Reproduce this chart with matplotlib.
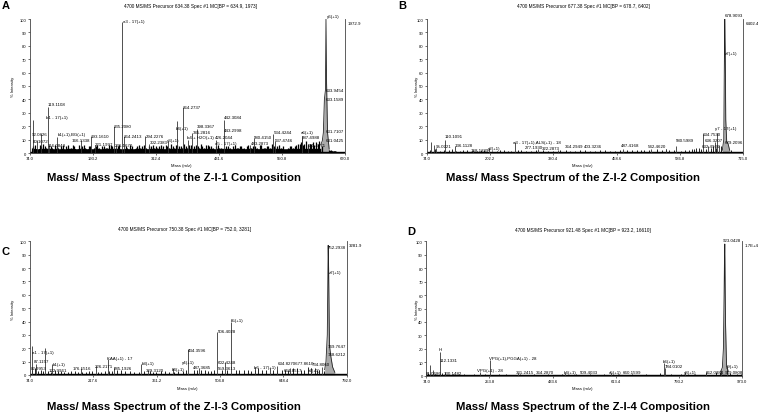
import numpy as np
import matplotlib
matplotlib.use("Agg")
from matplotlib import pyplot as plt

plt.rcParams['font.family'] = ['Liberation Sans', 'DejaVu Sans']

W, H = 758, 414

# ---------------- panel A : Z-I-1 ----------------
a_title = "4700 MS/MS Precursor 634.38 Spec #1 MC[BP = 634.9, 1973]"
a_xlim = (74.0, 670.0)
a_ticks = [74.0, 193.2, 312.4, 431.6, 550.8, 670.0]
a_right = "1972.9"
a_peak_mz = [79.7, 87, 95, 108, 110, 126, 170, 190, 197, 232, 236.6, 249, 252.4, 291.7, 300,
             334.6, 352.4, 363, 372.6, 381, 389.7, 426, 441, 491, 497, 534, 537, 588, 589, 600]
a_peak_int = [25, 10, 14, 34, 6, 12, 10, 13, 6, 20, 6, 98, 13, 12.5, 7,
              9, 24, 34, 10, 15, 18, 10, 25, 6, 11, 14, 9, 13, 11, 7]
a_prof_mz = [624, 627, 629, 631, 633, 634, 635, 637, 640]
a_prof_int = [6, 9, 15, 40, 47, 100, 55, 15, 3]
a_noise_mz = [77, 80, 84, 88, 92, 95, 99, 102, 104, 113,
              116, 118, 122, 125, 127, 130, 133, 136, 139, 143,
              146, 151, 155, 158, 163, 166, 170, 173, 176, 179,
              182, 185, 188, 192, 195, 198, 201, 204, 207, 211,
              214, 217, 220, 224, 227, 230, 237, 240, 243, 246,
              255, 258, 261, 264, 267, 270, 274, 277, 280, 283,
              286, 289, 293, 296, 299, 302, 306, 309, 312, 315,
              318, 321, 325, 328, 331, 334, 337, 340, 344, 347,
              350, 352, 356, 359, 362, 366, 369, 372, 375, 378,
              385, 388, 391, 394, 397, 400, 404, 407, 410, 413,
              416, 420, 423, 426, 429, 432, 436, 445, 449, 452,
              455, 458, 462, 465, 468, 471, 474, 478, 481, 484,
              487, 490, 493, 496, 500, 503, 506, 509, 512, 516,
              519, 522, 525, 528, 532, 535, 538, 541, 545, 549,
              552, 556, 559, 562, 565, 568, 571, 575, 578, 581,
              584, 587, 590, 593, 596, 600, 603, 606, 609, 612,
              615, 618, 621, 627, 640, 643, 646, 649, 652, 655,
              658, 661, 664, 667]
a_noise_int = [4, 5, 6, 3, 6, 5, 7, 5, 4, 5,
               4, 3, 6, 5, 4, 3, 5, 6, 3, 5,
               6, 4, 6, 5, 3, 6, 4, 5, 6, 4,
               3, 5, 5, 3, 4, 5, 6, 4, 3, 5,
               5, 4, 4, 6, 6, 5, 4, 5, 6, 3,
               5, 4, 3, 6, 5, 3, 4, 5, 6, 4,
               5, 6, 4, 3, 5, 5, 6, 4, 5, 4,
               5, 6, 5, 3, 6, 5, 4, 7, 5, 4,
               6, 6, 5, 5, 4, 7, 5, 4, 6, 6,
               5, 6, 5, 4, 7, 5, 4, 6, 6, 5,
               5, 4, 3, 5, 6, 4, 4, 5, 5, 4,
               3, 5, 6, 4, 4, 5, 5, 4, 3, 5,
               6, 4, 4, 5, 5, 4, 3, 6, 6, 4,
               4, 5, 5, 4, 7, 5, 4, 5, 6, 4,
               5, 3, 3, 4, 5, 5, 4, 5, 6, 7,
               7, 8, 6, 7, 9, 6, 7, 7, 8, 6,
               8, 7, 9, 5, 2, 2, 1.5, 1.5, 1.5, 1,
               1, 1, 1, 1]
a_lab_text = ["92.0826", "80.1072", "119.1108", "b1 - 17(+1)", "b1(+1),BG(+1)", "116.0843",
              "166.1338", "193.1610", "221.1997", "235.2080", "236.1670", "a3 - 17(+1)",
              "264.2413", "294.2276", "302.2383", "y3(+1)", "b4(+1)", "364.2737", "398.3367",
              "385.2816", "b4 + H2O(+1)", "442.3084", "443.2998", "426.2044", "a5 - 17(+1)",
              "580.4150", "483.2873", "534.4244", "537.4746", "a6(+1)", "587.4988", "611.4371",
              "y6(+1)", "633.9454", "633.1589", "631.7107", "631.0425"]
a_lab_mz = [93, 95, 124, 124, 154, 125, 171, 207, 214, 249.6, 252.4, 270.4,
            269.5, 309.4, 317, 345.4, 362.5, 380.5, 407.5, 398.5, 396.7, 459, 459, 442, 444,
            515.7, 508.6, 552, 554, 599, 605.4, 616, 647, 651, 651, 651, 651]
a_lab_int = [14, 9, 36.5, 27, 14, 6, 10, 13, 6.7, 20, 6, 98.7,
             13, 13, 8, 9.5, 19, 34.5, 20, 16, 11.7, 26.6, 17, 12, 7.5,
             12, 7.5, 16, 9.5, 16, 11.7, 6, 102, 47, 40, 16.6, 10]

# ---------------- panel B : Z-I-2 ----------------
b_title = "4700 MS/MS Precursor 677.38 Spec #1 MC[BP = 678.7, 6402]"
b_xlim = (74.0, 715.0)
b_ticks = [74.0, 202.2, 330.4, 458.6, 586.8, 715.0]
b_right = "6402.4"
b_peak_mz = [82.7, 88, 93, 110, 130, 167, 200, 253, 299, 340, 471.5, 529, 559, 580, 634, 644,
             657.5, 663, 667]
b_peak_int = [8.4, 6, 4, 9.7, 5, 2.5, 4, 8.4, 3, 2.5, 3, 3, 3, 5, 14, 5,
              8, 15, 6]
b_prof_mz = [673, 676, 677, 678, 679, 680, 682, 684, 688]
b_prof_int = [2, 10, 60, 100, 75, 25, 8, 8, 2]
b_noise_mz = [80, 90, 100, 108, 118, 125, 133, 140, 148, 155, 165, 175, 183, 190, 205, 215, 222,
              230, 238, 245, 258, 265, 275, 285, 295, 310, 320, 330, 343, 355, 365, 375, 385, 395,
              405, 415, 425, 435, 445, 455, 465, 480, 490, 500, 508, 515, 525, 540, 550, 558, 565,
              575, 590, 598, 605, 612, 615, 620, 625, 630, 640, 650, 655, 660, 670, 690, 700, 710]
b_noise_int = [2, 3, 1.5, 2, 2, 3, 1.5, 1.5, 2, 2, 1.5, 1.5, 2, 2, 1.5, 1.5, 2,
               2, 1.5, 1.5, 2, 2, 1.5, 1.5, 2, 2, 1.5, 1.5, 2, 2, 1.5, 1.5, 2, 2,
               1.5, 1.5, 2, 2, 1.5, 1.5, 2, 2.5, 2, 2, 2.5, 2.5, 2, 3, 2.5, 3, 2,
               2, 1.5, 2, 2, 3, 3, 4, 4, 3, 3, 4, 5, 4, 5, 2, 1, 1]
b_lab_text = ["95.0221", "110.1091", "136.1128", "168.1339", "y2(+1)",
              "a3 - 17(+1),ALS(+1) - 18", "277.1930", "322.2873", "364.2949", "403.3236",
              "487.4168", "542.4620", "580.5989", "634.7530", "636.3207", "632.4936",
              "y7 - 17(+1)", "678.9093", "z7(+1)", "679.2096"]
b_lab_mz = [107.9, 127.4, 148.4, 182, 211, 296, 291, 324.5, 373, 410,
            486, 541, 596.6, 652.6, 655.4, 650.6, 679.8, 696.6, 691, 696.6]
b_lab_int = [5.5, 12.4, 6.2, 2.5, 4, 8, 4.2, 4.0, 5.5, 5.5,
             6.2, 5.5, 10, 14, 10, 5.5, 19, 103, 75, 8]

# ---------------- panel C : Z-I-3 ----------------
c_title = "4700 MS/MS Precursor 750.38 Spec #1 MC[BP = 752.0, 3281]"
c_xlim = (74.0, 792.0)
c_ticks = [74.0, 217.6, 361.2, 504.8, 648.4, 792.0]
c_right = "3281.9"
c_peak_mz = [79, 87, 107, 125, 189, 223, 250, 265, 326, 341, 397.6, 432.6, 458, 497.7, 516,
             528.8, 583, 617.5, 633, 663, 712, 735]
c_peak_int = [22, 8, 20, 8, 5, 7, 12, 6, 8, 4, 5, 19.7, 5, 32.4, 10,
              39.4, 6, 5, 7, 5, 5, 6]
c_prof_mz = [742, 745, 748, 750, 751, 753, 756, 760, 765]
c_prof_int = [4, 10, 30, 97, 80, 22, 14, 6, 2]
c_noise_mz = [78, 85, 92, 98, 104, 115, 122, 130, 138, 145, 152, 160, 168, 175, 183, 191, 200,
              208, 215, 228, 235, 245, 253, 260, 272, 280, 290, 300, 310, 320, 333, 345, 352, 360,
              370, 380, 390, 400, 410, 420, 428, 445, 452, 462, 470, 478, 485, 492, 510, 520, 540,
              548, 560, 568, 575, 583, 590, 600, 610, 625, 635, 645, 652, 660, 670, 680, 688, 695,
              705, 712, 720, 725, 730, 740, 770, 778, 785]
c_noise_int = [4, 5, 3, 4, 3, 3, 2.5, 4, 3, 3, 2.5, 2.5, 3, 3, 2.5, 2.5, 2.5,
               3, 3, 2.5, 2.5, 3, 3, 3, 4, 4, 3, 3, 2.5, 2.5, 3, 3, 2.5, 2.5,
               3, 3, 2.5, 2.5, 3, 3, 3.5, 3.5, 4, 4, 4, 3, 3, 4, 4, 4, 3.5,
               3.5, 4, 4, 3, 4, 5, 4, 4, 4, 3.5, 3.5, 4, 4, 5, 5, 4, 4,
               6, 5, 5, 4, 4, 3, 1, 1, 1]
c_lab_text = ["a1 - 17(+1)", "87.1157", "82.9953", "b1(+1)", "122.9961", "176.1516",
              "226.2171", "KAA(+1) - 17", "285.1926", "b3(+1)", "329.3120", "b4(+1)",
              "y4(+1)", "434.3596", "487.3685", "506.4028", "b5(+1)", "602.4248",
              "559.3613", "b6 - 17(+1)", "634.8270677.8610", "661.8517", "a7(+1)",
              "734.8060", "749.7647", "748.6212", "752.2938", "z7(+1)"]
c_lab_mz = [104, 99.7, 93, 140, 137.7, 191.6, 242.3, 278, 285.5, 340.7, 356.7, 410,
            433, 452, 465, 520.4, 544, 520.4, 521, 607, 676, 669, 717.5, 733,
            770.5, 770.5, 769, 764.6]
c_lab_int = [17, 10.7, 5, 8.2, 3.7, 5, 7, 12.4, 5, 9, 3.7, 4.6,
             10, 18.7, 6, 32.7, 41, 10, 5, 6, 9, 4, 4, 8,
             22, 15.7, 96, 77]

# ---------------- panel D : Z-I-4 ----------------
d_title = "4700 MS/MS Precursor 921.48 Spec #1 MC[BP = 923.2, 16610]"
d_xlim = (74.0, 973.0)
d_ticks = [74.0, 253.8, 433.6, 613.4, 793.2, 973.0]
d_right = "1.7E+4"
d_peak_mz = [85.4, 92, 112, 126, 226, 254.5, 335, 468, 601, 751, 755, 810, 871.5, 913, 930]
d_peak_int = [8, 4, 17.6, 3, 3, 12, 2, 2, 2, 9.5, 6, 3, 3, 4, 6]
d_prof_mz = [912, 917, 920, 922, 923, 924, 926, 929, 934]
d_prof_int = [3, 6, 20, 60, 85, 98, 40, 8, 3]
d_noise_mz = [80, 100, 120, 150, 180, 210, 240, 280, 300, 340, 380, 420, 460, 500, 540, 580,
              620, 660, 700, 740, 770, 800, 840, 870, 900, 910, 940, 960, 970]
d_noise_int = [2, 1.5, 2, 1, 1.5, 1, 1.5, 1, 1.5, 1, 1.5, 1, 1.5, 1, 1.5, 1,
               1.5, 1, 1.5, 2, 1.5, 1, 1.5, 2, 2.5, 3, 2, 1, 1]
d_lab_text = ["H", "112.1331", "81.0686", "130.1482", "VPG(+1),PGGA(+1) - 28", "VPG(+1) - 28",
              "331.2415", "364.2870", "b4(+1)", "509.4033", "a5(+1)", "660.1599", "b6(+1)",
              "784.0102", "y8(+1)", "862.0384", "y9(+1)", "919.0808", "923.0428"]
d_lab_mz = [114, 136.7, 95, 150, 321, 256, 356, 413, 483, 536.5, 610.5, 660, 766,
            779.5, 826, 895, 944.6, 950, 944.6]
d_lab_int = [20, 12, 2, 2, 13, 4, 3, 2.5, 2.5, 2.5, 3, 2.5, 11,
             7, 3, 2.5, 7, 3, 101]

y_ticks = [0, 10, 20, 30, 40, 50, 60, 70, 80, 90, 100]


def fx(px):
    return px / W


def fy(py):
    return 1 - py / H


def draw_panel(rect, xlim, ticks, peak_mz, peak_int, prof_mz, prof_int,
               noise_mz, noise_int, lab_mz, lab_int, lab_text, right_text, heavy=False):
    ax = fig.add_axes(rect)
    if heavy:
        ax.fill_between(noise_mz, 0, np.minimum(noise_int, 3.5), color='black', lw=0)
        ax.vlines(noise_mz, 0, noise_int, color='black', lw=0.9)
    else:
        ax.vlines(noise_mz, 0, noise_int, color='black', lw=0.6)
    ax.axhline(0.8, color='black', lw=1.0)
    ax.vlines(peak_mz, 0, peak_int, color='#333333', lw=0.6)
    ax.fill_between(prof_mz, 0, prof_int, color='#aaaaaa', lw=0)
    ax.plot(prof_mz, prof_int, color='#222222', lw=0.6)
    for m, i, t in zip(lab_mz, lab_int, lab_text):
        ax.text(m, i, t, fontsize=3.2, ha='center', va='center', clip_on=False)
    ax.set_xlim(*xlim)
    ax.set_ylim(0, 100)
    ax.set_xticks(ticks)
    ax.set_xticklabels([f"{t:.1f}" for t in ticks])
    ax.set_yticks(y_ticks)
    ax.tick_params(labelsize=3, length=1.5, width=0.4, pad=1)
    for s in ['left', 'bottom', 'right']:
        ax.spines[s].set_linewidth(0.6)
        ax.spines[s].set_color('#444444')
    ax.spines['top'].set_visible(False)
    ax.text(1.008, 0.985, right_text, transform=ax.transAxes, fontsize=3.2,
            ha='left', va='top')
    return ax


fig = plt.figure(figsize=(W / 100, H / 100), dpi=100)

draw_panel([fx(30), fy(154), (345 - 30) / W, 134 / H], a_xlim, a_ticks,
           a_peak_mz, a_peak_int, a_prof_mz, a_prof_int, a_noise_mz, a_noise_int,
           a_lab_mz, a_lab_int, a_lab_text, a_right, heavy=True)
draw_panel([fx(427), fy(154), 316 / W, 134 / H], b_xlim, b_ticks,
           b_peak_mz, b_peak_int, b_prof_mz, b_prof_int, b_noise_mz, b_noise_int,
           b_lab_mz, b_lab_int, b_lab_text, b_right)
draw_panel([fx(30), fy(376), 316.7 / W, 133.7 / H], c_xlim, c_ticks,
           c_peak_mz, c_peak_int, c_prof_mz, c_prof_int, c_noise_mz, c_noise_int,
           c_lab_mz, c_lab_int, c_lab_text, c_right)
draw_panel([fx(426.3), fy(376.7), 315.7 / W, 134.4 / H], d_xlim, d_ticks,
           d_peak_mz, d_peak_int, d_prof_mz, d_prof_int, d_noise_mz, d_noise_int,
           d_lab_mz, d_lab_int, d_lab_text, d_right)

# titles, axis names, panel letters, captions
for (x, y), t in zip([(190, 6.7), (583, 6.7), (185, 230), (583, 230.7)],
                     [a_title, b_title, c_title, d_title]):
    fig.text(fx(x), fy(y), t, fontsize=3.4, ha='center', va='center')

for x, y in [(181.7, 165.7), (582, 165.7), (187.3, 388.7), (582, 388.7)]:
    fig.text(fx(x), fy(y), "Mass (m/z)", fontsize=3, ha='center', va='center')

for x, y in [(13.3, 86.7), (417, 86.7), (13.3, 310), (417.3, 310)]:
    fig.text(fx(x), fy(y), "% Intensity", fontsize=3, ha='center', va='center', rotation=90)

for (x, y), t in zip([(6, 6), (402, 6), (5, 251.7), (411.3, 231.7)], ["A", "B", "C", "D"]):
    fig.text(fx(x), fy(y), t, fontsize=8, fontweight='bold', ha='center', va='center')

captions = ["Mass/ Mass Spectrum of the Z-I-1 Composition",
            "Mass/ Mass Spectrum of the Z-I-2 Composition",
            "Mass/ Mass Spectrum of the Z-I-3 Composition",
            "Mass/ Mass Spectrum of the Z-I-4 Composition"]
for (x, y), t in zip([(174, 178.3), (573, 178.3), (173.8, 407.5), (583, 407.5)], captions):
    fig.text(fx(x), fy(y), t, fontsize=8.2, fontweight='bold', ha='center', va='center')

fig.savefig("out.png", dpi=100)
